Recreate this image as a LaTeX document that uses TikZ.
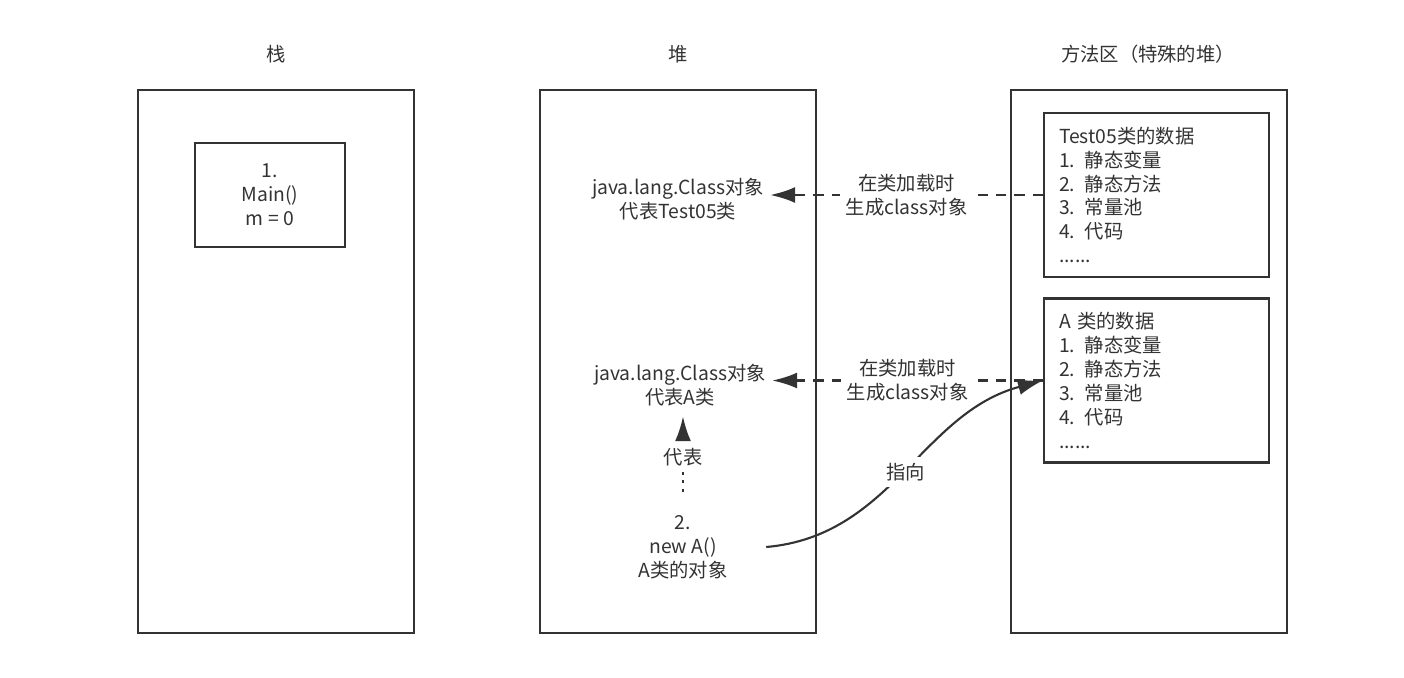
\documentclass[tikz,border=0pt]{standalone}
\usepackage{fontspec}
\setmainfont{Noto Sans CJK SC}
\usetikzlibrary{positioning,arrows.meta}
\definecolor{ink}{HTML}{333333}

\begin{document}
\begin{tikzpicture}[x=0.02cm,y=-0.02cm,
    font=\fontsize{11}{13.6}\selectfont,
    area/.style={draw=ink,line width=1.3pt,minimum width=5.52cm,minimum height=10.86cm},
    databox/.style={draw=ink,line width=1.3pt,align=left,text width=3.9cm,inner xsep=0.3cm,
                    minimum width=4.5cm,minimum height=3.28cm,text=ink},
    txt/.style={align=center,text=ink},
    tip/.style={-{Latex[length=5mm,width=3.2mm]},color=ink}]
    \useasboundingbox (0,0) rectangle (1404,677);

    \node[area] (stack) at (276,361.5) {};
    \node[area] (heap) at (678,361.5) {};
    \node[area] (method) at (1149,361.5) {};
    \node[txt] (stacktitle) at (276,54) {栈};
    \node[txt] (heaptitle) at (678,54) {堆};
    \node[txt] (methodtitle) at (1148,54) {方法区（特殊的堆）};

    \node[draw=ink,line width=1.3pt,txt,minimum width=3cm,minimum height=2.08cm] (mainframe) at (270,195) {1.\\Main()\\m = 0};

    \node[databox] (t05data) at (1156.5,195) {Test05类的数据\\1. 静态变量\\2. 静态方法\\3. 常量池\\4. 代码\\......};
    \node[databox] (adata) at (1156.5,380.5) {A 类的数据\\1. 静态变量\\2. 静态方法\\3. 常量池\\4. 代码\\......};

    \node[txt] (cls1) at (678,199) {java.lang.Class对象\\代表Test05类};
    \node[txt] (cls2) at (680,385) {java.lang.Class对象\\代表A类};
    \node[txt] (newA) at (683,547) {2.\\new A()\\A类的对象};

    \path[tip,line width=1.3pt,dash pattern=on 5.8pt off 4.6pt] (t05data.west) edge node[txt,fill=white] {在类加载时\\生成class对象} (t05data.west -| cls1.east)
                     (adata.west) edge node[txt,fill=white] {在类加载时\\生成class对象} (adata.west -| cls2.east);
    \path[tip,line width=1.6pt,dash pattern=on 2pt off 3pt,shorten <=0.34cm,shorten >=0.08cm]
        (newA.north) edge node[txt,fill=white,pos=0.54] {代表} (newA.north |- cls2.south);
    \path[tip,line width=1.2pt] ([xshift=0.65cm]newA.east) edge[out=5,in=195] node[txt,fill=white] {指向} (adata.west);
\end{tikzpicture}
\end{document}
